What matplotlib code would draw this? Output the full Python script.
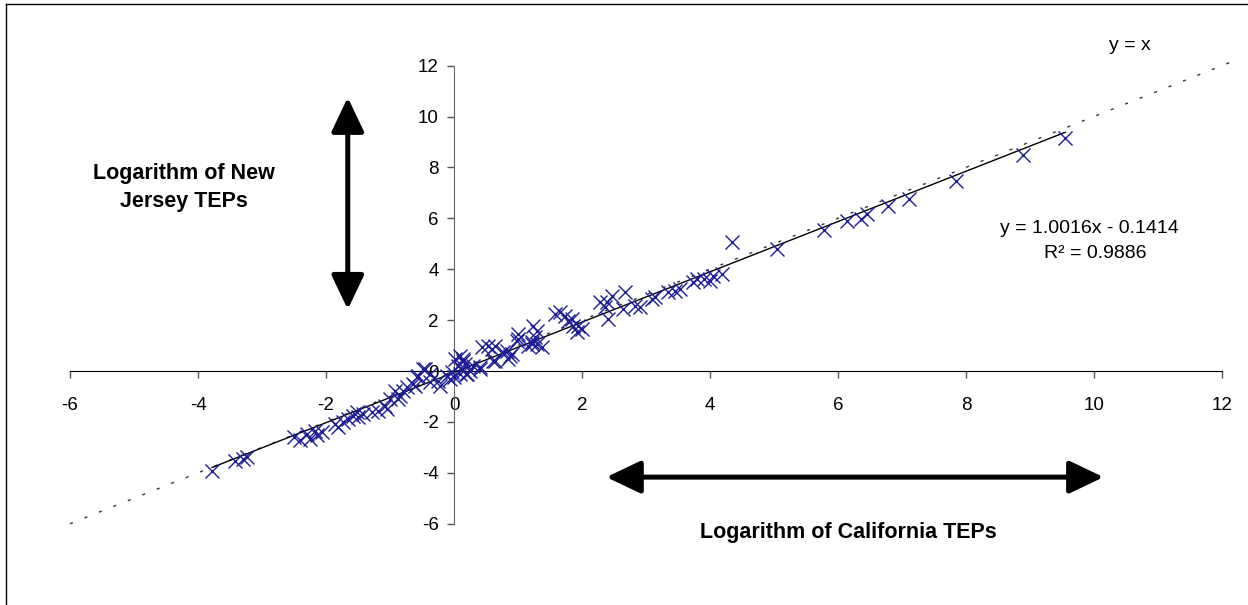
import numpy as np
import matplotlib.pyplot as plt
from matplotlib.lines import Line2D

plt.rcParams['font.family'] = ['Liberation Sans', 'DejaVu Sans']
plt.rcParams['axes.unicode_minus'] = False

# log of California TEPs (x) and log of New Jersey TEPs (y)
ca_log = [-3.78, -3.42, -3.30, -3.23, -2.50, -2.40, -2.30, -2.25, -2.17, -2.06,
          -2.14, -1.86, -1.81, -1.73, -1.66, -1.58, -1.52, -1.42, -1.50, -1.28,
          -1.19, -1.08, -1.05, -1.00, -0.92, -0.88, -0.84, -0.80, -0.73, -0.64,
          -0.61, -0.58, -0.56, -0.48, -0.45, -0.37, -0.37, -0.25, -0.22, -0.11,
          -0.06, -0.03, 0.00, 0.02, 0.06, 0.12, 0.17, 0.09, 0.20, 0.25,
          0.14, 0.30, 0.40, 0.09, 0.14, 0.40, 0.18, 0.44, 0.53, 0.60,
          0.64, 0.64, 0.61, 0.77, 0.83, 0.88, 0.84, 0.90, 0.98, 1.00,
          1.00, 1.16, 1.22, 1.22, 1.27, 1.23, 1.30, 1.38, 1.30, 1.58,
          1.66, 1.73, 1.78, 1.84, 1.86, 1.94, 2.00, 1.92, 2.28, 2.39,
          2.47, 2.36, 2.41, 2.67, 2.64, 2.83, 2.90, 3.09, 3.14, 3.34,
          3.45, 3.53, 3.73, 3.80, 3.90, 4.00, 4.05, 4.19, 4.34, 5.05,
          5.78, 6.14, 6.36, 6.45, 6.78, 7.11, 7.84, 8.89, 9.55]
nj_log = [-3.94, -3.54, -3.46, -3.39, -2.60, -2.72, -2.48, -2.66, -2.36, -2.40,
          -2.52, -2.09, -2.20, -2.00, -1.89, -1.77, -1.61, -1.69, -1.81, -1.61,
          -1.57, -1.38, -1.50, -1.10, -0.79, -1.10, -0.98, -0.79, -0.63, -0.51,
          -0.59, -0.24, -0.20, 0.08, 0.08, -0.12, -0.43, -0.39, -0.59, -0.20,
          -0.31, -0.04, -0.24, 0.47, 0.20, 0.08, 0.28, -0.12, -0.12, 0.00,
          0.47, 0.20, 0.08, 0.59, 0.39, 0.16, -0.10, 0.94, 0.98, 0.87,
          0.98, 0.39, 0.40, 0.75, 0.80, 0.60, 0.47, 0.67, 1.18, 1.46,
          1.26, 0.98, 1.06, 1.14, 1.34, 1.77, 1.06, 0.94, 1.57, 2.24,
          2.32, 2.17, 1.97, 2.05, 1.77, 1.77, 1.65, 1.53, 2.72, 2.72,
          2.95, 2.52, 2.05, 3.10, 2.44, 2.56, 2.52, 2.83, 2.90, 3.10,
          3.15, 3.23, 3.50, 3.62, 3.62, 3.54, 3.74, 3.82, 5.08, 4.80,
          5.55, 5.90, 5.98, 6.18, 6.50, 6.77, 7.48, 8.50, 9.17]

x_ticks = [-6, -4, -2, 0, 2, 4, 6, 8, 10, 12]
y_ticks = [-6, -4, -2, 0, 2, 4, 6, 8, 10, 12]
identity_x = [-6, 12.25]

ca = np.array(ca_log)
nj = np.array(nj_log)

fig = plt.figure(figsize=(12.48, 6.05), dpi=100)
ax = fig.add_axes([0.05609, 0.13438, 0.92308, 0.75719])
ax.set_xlim(-6, 12)
ax.set_ylim(-6, 12)

# y = x reference line
ax.plot(identity_x, identity_x, color='#333333', lw=1,
        linestyle=(0, (2.2, 9)), clip_on=False, zorder=1)

# linear trend through the points
slope, icpt = np.polyfit(ca, nj, 1)
tx = np.array([ca.min(), ca.max()])
ax.plot(tx, slope * tx + icpt, color='black', lw=1, zorder=2)

ax.plot(ca, nj, linestyle='none', marker='x', ms=10, mew=1,
        color='#1c1c96', zorder=3)

for s in ['top', 'right']:
    ax.spines[s].set_visible(False)
ax.spines['left'].set_position(('data', 0))
ax.spines['bottom'].set_position(('data', 0))
ax.spines['left'].set_color('#666666')
ax.spines['bottom'].set_color('black')

ax.set_xticks(x_ticks)
ax.set_yticks(y_ticks)
ax.tick_params(axis='x', direction='out', length=5, width=1, color='#555555',
               pad=14, labelsize=13.5)
ax.tick_params(axis='y', direction='out', length=5, width=1, color='#555555',
               pad=6, labelsize=13.5)

# double arrows for the axis captions
arrow_kw = dict(arrowstyle='<|-|>,head_length=2.1,head_width=1.0',
                color='black', lw=3.6, shrinkA=0, shrinkB=0)
ax.annotate('', xy=(-1.66, 10.75), xytext=(-1.66, 2.42),
            arrowprops=arrow_kw, annotation_clip=False)
ax.annotate('', xy=(10.15, -4.17), xytext=(2.38, -4.17),
            arrowprops=arrow_kw, annotation_clip=False)

ax.text(-4.22, 7.2, 'Logarithm of New\nJersey TEPs', ha='center', va='center',
        fontsize=15.5, fontweight='bold', linespacing=1.45)
ax.text(6.16, -6.34, 'Logarithm of California TEPs', ha='center', va='center',
        fontsize=15.5, fontweight='bold', clip_on=False)
ax.text(10.56, 12.8, 'y = x', ha='center', va='center', fontsize=14,
        clip_on=False)
ax.text(9.92, 5.6, 'y = 1.0016x - 0.1414', ha='center', va='center',
        fontsize=14)
ax.text(10.02, 4.62, 'R² = 0.9886', ha='center', va='center', fontsize=14)

# chart area border (only left and top visible in the crop)
fig.add_artist(Line2D([0.0048, 0.0048], [0, 0.9934], color='black', lw=1,
                      transform=fig.transFigure))
fig.add_artist(Line2D([0.0048, 1], [0.9934, 0.9934], color='black', lw=1,
                      transform=fig.transFigure))

fig.savefig('out.png', dpi=100)
